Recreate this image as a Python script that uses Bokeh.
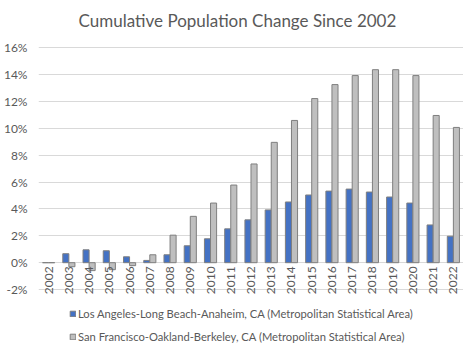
import math
from bokeh.plotting import figure
from bokeh.models import (Range1d, FactorRange, FixedTicker, PrintfTickFormatter,
                          Legend, LegendItem, ColumnDataSource, Label)
from bokeh.transform import dodge
from bokeh.core.properties import value
from bokeh.embed import file_html
from bokeh.resources import INLINE

years = [str(y) for y in range(2002, 2023)]
la = [0.0, 0.67, 0.96, 0.89, 0.44, 0.17, 0.59, 1.26, 1.78, 2.52, 3.19, 3.93,
      4.52, 5.04, 5.33, 5.48, 5.26, 4.89, 4.44, 2.81, 1.97]
sf = [0.0, -0.30, -0.59, -0.52, -0.22, 0.59, 2.05, 3.45, 4.44, 5.78, 7.35, 8.96,
      10.59, 12.22, 13.26, 13.93, 14.37, 14.37, 13.93, 10.96, 10.07]
y_ticks = [-2, 0, 2, 4, 6, 8, 10, 12, 14, 16]
title_text = "Cumulative Population Change Since 2002"
la_name = "Los Angeles-Long Beach-Anaheim, CA (Metropolitan Statistical Area)"
sf_name = "San Francisco-Oakland-Berkeley, CA (Metropolitan Statistical Area)"

FONT = "Lato"
TXT = "#595959"

src = ColumnDataSource(data=dict(year=years, la=la, sf=sf, lab_y=[-0.27] * len(years)))

# The frame spans the whole height (no outline/background difference), so the
# title and the legend sit inside it, above and below the gridded -2%..16% band.
p = figure(x_range=FactorRange(*years, range_padding=0), y_range=Range1d(-6.09, 19.52),
           frame_width=425, frame_height=344,
           output_backend="svg", toolbar_location=None,
           x_axis_location=None,
           min_border_left=32, min_border_right=0, min_border_top=0, min_border_bottom=0)
p.x_range.factor_padding = 0
p.outline_line_color = None
p.background_fill_color = "white"
p.border_fill_color = "white"

p.xgrid.grid_line_color = None
p.ygrid.grid_line_color = "#D9D9D9"
p.ygrid.ticker = FixedTicker(ticks=y_ticks)

yax = p.yaxis[0]
yax.ticker = FixedTicker(ticks=y_ticks)
yax.formatter = PrintfTickFormatter(format="%d%%")
yax.axis_line_color = None
yax.major_tick_line_color = None
yax.minor_tick_line_color = None
yax.major_tick_in = 0
yax.major_tick_out = 0
yax.major_label_standoff = 11
yax.major_label_text_font = FONT
yax.major_label_text_font_size = "12px"
yax.major_label_text_color = TXT

r1 = p.vbar(x=dodge("year", -0.15, range=p.x_range), top="la", width=0.3, source=src,
            fill_color="#4472C4", line_color="#7F7F7F", line_width=1)
r2 = p.vbar(x=dodge("year", 0.15, range=p.x_range), top="sf", width=0.3, source=src,
            fill_color="#BFBFBF", line_color="#7F7F7F", line_width=1)

p.text(x="year", y="lab_y", text="year", source=src, angle=math.pi / 2,
       text_align="right", text_baseline="middle", text_font=value(FONT),
       text_font_size="12px", text_color=TXT)

p.add_layout(Label(x=9.83, y=18.04, text=title_text, text_align="center",
                   text_baseline="alphabetic", text_font=FONT, text_font_size="17px",
                   text_color=TXT))

legend = Legend(items=[LegendItem(label=la_name, renderers=[r1]),
                       LegendItem(label=sf_name, renderers=[r2])],
                location=(31, 0), orientation="vertical",
                label_text_font=FONT, label_text_font_size="11.2px", label_text_color=TXT,
                glyph_width=7, glyph_height=7, label_height=16, spacing=7,
                label_standoff=2, padding=0, margin=0,
                border_line_color=None, background_fill_alpha=0)
p.add_layout(legend, "center")

open("out.html", "w").write(file_html(p, INLINE))
